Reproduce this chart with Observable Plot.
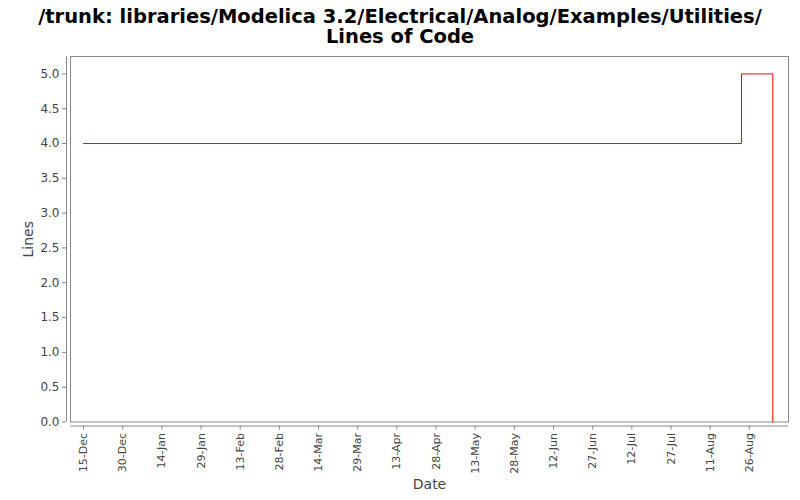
<!DOCTYPE html>
<html>
<head>
<meta charset="utf-8">
<script src="https://cdn.jsdelivr.net/npm/d3@7"></script>
<script src="https://cdn.jsdelivr.net/npm/@observablehq/plot@0.6"></script>
<style>
  html, body { margin: 0; padding: 0; background: #fff; }
  #title { width: 800px; height: 50px; box-sizing: border-box; padding-top: 7px; text-align: center;
    font-family: "DejaVu Sans", sans-serif; font-weight: bold; font-size: 19.5px; color: #000; }
  #title div { height: 20px; line-height: 20px; white-space: nowrap; }
  svg { display: block; font-family: "DejaVu Sans", sans-serif; }
</style>
</head>
<body>
<div id="title"><div>/trunk: libraries/Modelica 3.2/Electrical/Analog/Examples/Utilities/</div><div>Lines of Code</div></div>
<div id="chart"></div>
<script>
const dates = ["2011-12-15", "2012-08-23", "2012-09-04"];
const lines = [4, 5, 0];
const tickDates = ["2011-12-15","2011-12-30","2012-01-14","2012-01-29","2012-02-13","2012-02-28","2012-03-14","2012-03-29","2012-04-13","2012-04-28","2012-05-13","2012-05-28","2012-06-12","2012-06-27","2012-07-12","2012-07-27","2012-08-11","2012-08-26"];
const yTicks = [0, 0.5, 1, 1.5, 2, 2.5, 3, 3.5, 4, 4.5, 5];
const xDomain = ["2011-12-10", "2012-09-10"];
const yDomain = [0, 5.25];

const data = dates.map((d, i) => ({date: new Date(d), value: lines[i]}));
const fmt = d3.utcFormat("%d-%b");

const chart = Plot.plot({
  width: 800,
  height: 450,
  marginTop: 6,
  marginBottom: 78.5,
  marginLeft: 70,
  marginRight: 12,
  x: {type: "utc", domain: xDomain.map(d => new Date(d))},
  y: {domain: yDomain},
  style: {fontFamily: "DejaVu Sans, sans-serif", color: "#444"},
  marks: [
    Plot.frame({stroke: "#888"}),
    Plot.ruleX([new Date(xDomain[0])], {y1: yDomain[0], y2: yDomain[1], dx: -4, stroke: "#888"}),
    Plot.ruleY([yDomain[0]], {x1: new Date(xDomain[0]), x2: new Date(xDomain[1]), dy: 4, stroke: "#888"}),
    Plot.axisY({ticks: yTicks, tickFormat: d3.format(".1f"), tickSize: 4, dx: -4, tickPadding: 3, fontSize: 12, stroke: "#888", fill: "#444", label: null}),
    Plot.axisX({ticks: tickDates.map(d => new Date(d)), tickFormat: fmt, tickSize: 4, dy: 4, tickRotate: -90, tickPadding: 3, fontSize: 11, stroke: "#888", fill: "#444", label: null}),
    Plot.text(["Date"], {frameAnchor: "bottom", dy: 63, fontSize: 14, fill: "#444", textAnchor: "middle", lineAnchor: "middle", text: d => d}),
    Plot.text(["Lines"], {frameAnchor: "left", dx: -42, rotate: -90, fontSize: 14, fill: "#444", textAnchor: "middle", lineAnchor: "middle", text: d => d}),
    Plot.line(data, {x: "date", y: "value", curve: "step-after", stroke: "#ff0000", strokeWidth: 1})
  ]
});
document.getElementById("chart").appendChild(chart);
</script>
</body>
</html>
